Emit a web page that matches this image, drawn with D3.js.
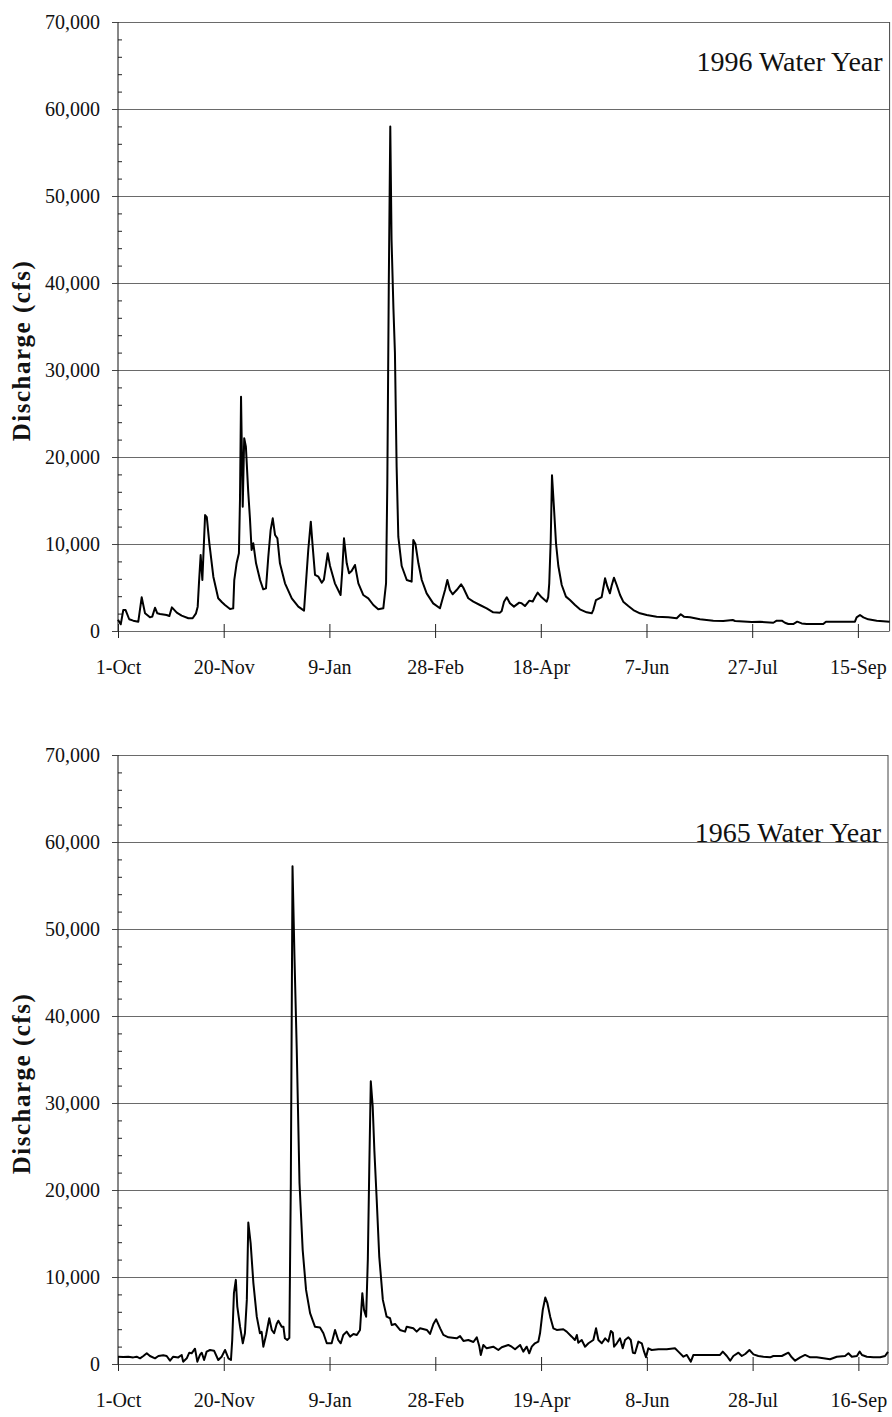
<!DOCTYPE html>
<html>
<head>
<meta charset="utf-8">
<script src="https://cdn.jsdelivr.net/npm/d3@7"></script>
<style>
  body { margin: 0; background: #fff; }
  .grid line { stroke: #6a6a6a; stroke-width: 1; }
  .grid path { display: none; }
</style>
</head>
<body>
<div id="chart"></div>
<script>
// day offsets from 1-Oct and discharge (cfs)
var days1996 = [0,1.3,2.5,3.6,5.3,7.2,9.6,11.2,12.8,15.1,16.2,17.5,18.6,19.9,23,24.3,25.5,27.8,30.1,33.3,35.3,36.9,37.7,38.3,39.1,39.9,41.2,42,43.2,45.1,47.4,49.2,50.6,53,54.5,55,56.1,57.2,57.7,58.2,59,59.7,60.5,61.6,62.4,63.2,64,65.3,67.2,68.7,70,71.1,72.2,73.2,74.3,75.4,76.6,79,82.2,85.3,88,88.9,90,91.2,92.1,93.2,94.8,96.4,97.4,99.2,100.3,102.6,105.3,106.1,106.9,108.2,109.3,110.5,112.1,113.7,116,118.4,120.8,123.1,125.5,126.8,127.4,128.1,128.8,129.4,130.3,131,131.8,132.6,134.2,136.6,138.9,139.7,140.7,142.1,143.7,146,149.1,152.3,154.7,155.8,157,158.3,160.2,162.3,163.3,165.7,168.1,171.2,174.4,177.5,180.7,181.5,182.6,183.9,185.4,187.3,189.8,190.9,192.5,194.6,196.2,197.3,198.5,200.4,202.8,203.5,204,204.7,205.3,206.2,207.2,208.3,209.9,211.9,213.8,216.2,218.5,221.7,224.1,224.8,226.1,227.7,228.8,230.4,231.5,232.7,233.5,234.6,235.9,237.5,239,241.4,243.8,246.9,250.1,254.8,260.3,264.3,266.2,267.7,270.6,275.3,281.6,286.3,290.8,291.9,299.8,303.7,310,311.6,314,315.5,317.1,319.4,321.3,323.4,325.8,333.6,334.9,341.5,348.6,349.4,351,352.6,354.9,358.9,365];
var cfs1996 = [1300,770,2410,2410,1350,1190,1070,3870,2030,1570,1650,2680,2030,1950,1840,1720,2720,2110,1760,1460,1460,2030,2800,5500,8740,5860,13330,13100,10100,6240,3760,3300,2990,2530,2600,5860,7780,8930,15060,26930,14290,22150,21180,16000,13000,9310,10080,7780,5860,4790,4900,8540,11600,12950,11030,10650,7780,5480,3760,2800,2340,5480,9310,12570,9700,6440,6240,5550,5900,8930,7470,5480,4140,7010,10650,7780,6630,6900,7590,5480,4140,3760,2990,2490,2610,5480,16980,40000,58000,45000,37000,32000,18880,10840,7470,5860,5670,10460,10000,7780,5860,4330,3180,2610,4710,5860,4710,4220,4710,5370,5000,3760,3370,2990,2610,2150,2110,2300,3370,3870,3180,2800,3260,3200,2870,3490,3400,3900,4410,3870,3370,3900,5480,10460,17900,14290,10080,7470,5290,3950,3560,2990,2490,2150,2030,2400,3560,3760,3900,6060,5090,4330,5200,6130,5290,4140,3370,2870,2410,2030,1840,1650,1570,1460,1920,1650,1570,1340,1190,1150,1260,1150,1030,1060,950,1190,1190,950,800,800,1070,870,800,800,1070,1070,1070,1570,1840,1570,1340,1190,1070];

var days1965 = [0,2.5,4.9,7.2,8.8,10.4,12,13.6,15.1,17.5,19.1,21.4,23,24.6,26.1,28.5,30.1,30.8,32.5,33.7,34.8,36.4,37.5,38.8,39.6,40.7,41.9,43.5,45.4,47.4,49,50.6,52.2,53.4,54,54.8,55.7,56.4,57.7,59,60,60.9,61.6,62.7,64,65.6,67.1,67.9,68.7,70,71.5,72.7,73.8,75,75.8,77.4,78.2,78.9,80,81,81.7,82.5,83.4,84.5,85.8,87.3,88.9,90.8,93.1,95.5,97.1,98.7,101,102.6,104.1,105.3,106.5,108.1,109.7,111.3,112.9,114.4,115.5,116.3,117.3,118.1,118.8,119.5,120.4,121.2,122.3,123.5,125.2,127,128.6,129.4,131,133.3,135.7,136.5,139.6,141.2,142.8,146,147.5,149.1,150.4,152.3,153.8,156.2,160.1,161.7,163.3,165.6,168,169.6,170.8,171.5,172.7,174.3,177.4,179.8,181.4,184.5,186.1,187.7,190.1,191.6,193.2,194.4,195.6,197.1,198.7,199.5,200.8,202,203,204.3,205.8,207.4,210.5,212.1,214.5,216,216.9,217.6,219.2,220.8,222.4,224.7,226,227.1,228.7,230.3,231.8,233,233.9,234.5,235.8,237.3,238.6,239.7,241.3,242.4,243.4,244.4,246,247.6,248.7,249.6,250.7,252.3,255.5,259.4,263.3,264.9,267.3,268.9,270.8,272,275.2,284.6,285.9,287.8,289.4,290.9,293.3,294.9,296.5,298.5,300.4,302.7,305.1,308.3,309.8,313.8,316.9,318.5,320.1,322.5,324.8,327.2,330.3,333.5,336.6,339.8,343.7,345.3,346.9,349.3,350.6,351.7,354,357.1,360.3,362.6,364];
var cfs1965 = [840,800,840,760,840,650,920,1230,920,650,920,1000,920,380,840,760,1040,270,650,1300,1230,1760,270,1070,1300,460,1420,1610,1530,460,840,1610,650,460,2760,8140,9670,6600,4290,2380,3530,7370,16260,13890,9290,5440,3530,3700,1990,3340,5260,3910,3530,4600,4980,4290,4290,2960,2760,3000,20800,57200,47000,36140,20800,13120,8520,5840,4290,4200,3530,2380,2380,3910,2760,2380,3340,3720,3150,3450,3340,3910,8140,6220,5440,12000,22710,32500,29620,24500,18880,12350,7370,5440,5260,4490,4600,3910,3720,4290,4100,3720,4100,3910,3450,4600,5140,4100,3340,3070,2950,3200,2650,2760,2530,3070,2030,1040,2190,1800,1990,1610,1920,2190,1990,1690,2190,1420,1990,1230,1990,2380,2570,3530,6220,7640,6990,5440,4100,3920,3990,3720,3140,2760,3330,2450,2760,1990,2380,2760,4100,2760,2380,2950,2570,3800,3600,1990,2380,2950,1800,2760,3070,2760,1300,1230,2570,2380,1420,770,1800,1610,1690,1690,1800,1420,840,1040,270,1040,1040,1040,1420,920,380,920,1300,920,1150,1610,1110,920,840,770,920,920,1300,770,380,770,1040,770,770,650,540,840,920,1230,840,920,1420,1040,840,770,770,920,1400];

var tickDays = [0, 50, 100, 150, 200, 250, 300, 350];
var tickLabels1996 = ["1-Oct", "20-Nov", "9-Jan", "28-Feb", "18-Apr", "7-Jun", "27-Jul", "15-Sep"];
var tickLabels1965 = ["1-Oct", "20-Nov", "9-Jan", "28-Feb", "19-Apr", "8-Jun", "28-Jul", "16-Sep"];
var yMajor = [0, 10000, 20000, 30000, 40000, 50000, 60000, 70000];

var SERIF = '"Liberation Serif", "Times New Roman", serif';
var W = 892, H = 1417;
var svg = d3.select("#chart").append("svg")
    .attr("width", W)
    .attr("height", H);

function drawPanel(days, cfs, labels, lastDay, top, bottom, right, title, titleY) {
    var left = 118;
    var x = d3.scaleLinear().domain([0, lastDay]).range([left, right]);
    var y = d3.scaleLinear().domain([0, 70000]).range([bottom, top]);
    var plotW = right - left;

    // horizontal gridlines
    svg.append("g")
        .attr("class", "grid")
        .attr("transform", "translate(" + left + ",0)")
        .call(d3.axisLeft(y).tickValues(yMajor).tickSize(-plotW).tickFormat(""));

    // right frame
    svg.append("line")
        .attr("x1", right).attr("x2", right)
        .attr("y1", top).attr("y2", bottom)
        .attr("stroke", "#444").attr("stroke-width", 1);

    // minor ticks inside
    var minor = d3.range(2000, 70000, 2000).filter(function (v) { return v % 10000 !== 0; });
    var gMinor = svg.append("g")
        .attr("transform", "translate(" + left + ",0)")
        .call(d3.axisRight(y).tickValues(minor).tickSize(4).tickFormat(""));
    gMinor.select(".domain").remove();
    gMinor.selectAll("line").attr("stroke", "#222");

    // y axis
    var gy = svg.append("g")
        .attr("transform", "translate(" + left + ",0)")
        .call(d3.axisLeft(y).tickValues(yMajor).tickSize(6).tickPadding(12).tickFormat(d3.format(",")));
    gy.attr("font-family", SERIF).attr("font-size", 20);
    gy.select(".domain").attr("stroke", "#111").attr("d", "M0," + top + "V" + bottom);
    gy.selectAll(".tick line").attr("stroke", "#444");
    gy.selectAll("text").attr("fill", "#111");

    // x axis, ticks crossing the baseline
    var gx = svg.append("g")
        .attr("transform", "translate(0," + bottom + ")")
        .call(d3.axisBottom(x).tickValues(tickDays).tickSize(7).tickPadding(22)
            .tickFormat(function (d, i) { return labels[i]; }));
    gx.attr("font-family", SERIF).attr("font-size", 20);
    gx.select(".domain").remove();
    gx.selectAll(".tick line").attr("y1", -7).attr("y2", 7).attr("stroke", "#222");
    gx.selectAll("text").attr("fill", "#111");

    // axis title
    svg.append("text")
        .attr("transform", "translate(30," + ((top + bottom) / 2 + 24) + ") rotate(-90)")
        .attr("text-anchor", "middle")
        .attr("font-family", SERIF)
        .attr("font-size", 25)
        .attr("font-weight", "bold")
        .attr("letter-spacing", "1.5px")
        .attr("fill", "#111")
        .text("Discharge (cfs)");

    // panel title
    svg.append("text")
        .attr("x", right - 7)
        .attr("y", titleY)
        .attr("text-anchor", "end")
        .attr("font-family", SERIF)
        .attr("font-size", 28)
        .attr("fill", "#111")
        .text(title);

    var line = d3.line()
        .x(function (d) { return x(d[0]); })
        .y(function (d) { return y(d[1]); });

    svg.append("path")
        .datum(d3.zip(days, cfs))
        .attr("fill", "none")
        .attr("stroke", "#000")
        .attr("stroke-width", 2)
        .attr("stroke-linejoin", "round")
        .attr("d", line);
}

drawPanel(days1996, cfs1996, tickLabels1996, 365, 22, 631, 889.6, "1996 Water Year", 71);
drawPanel(days1965, cfs1965, tickLabels1965, 364, 755, 1364, 888, "1965 Water Year", 842);
</script>
</body>
</html>
